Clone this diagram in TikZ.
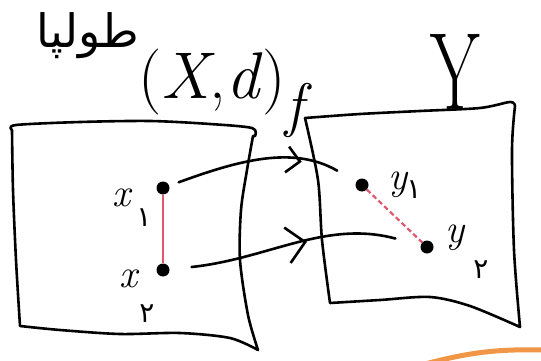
\documentclass[tikz,border=0pt]{standalone}
\usepackage{fontspec}
\usetikzlibrary{arrows.meta,decorations.markings}
\newfontfamily\arabicfont[Script=Arabic]{DejaVu Sans}
\TeXXeTstate=1
\definecolor{penred}{RGB}{226,86,108}
\definecolor{penorange}{RGB}{240,150,70}
\begin{document}
\begin{tikzpicture}[x=1pt,y=-1pt,
  pen/.style={line width=2.6pt,line cap=round,line join=round},
  pt/.style={circle,fill=black,inner sep=0pt,minimum size=13pt},
  lbl/.style={inner sep=0pt,font=\fontsize{40}{42}\selectfont\itshape},
  sub/.style={inner sep=0pt,font=\arabicfont\fontsize{28}{30}\selectfont},
  conn/.style 2 args={pen,postaction={decorate},decoration={markings,
     mark=at position #1 with {\arrow[line width=2.6pt]{Straight Barb[length=#2pt,width=2*#2pt]}}}}
]
\useasboundingbox (0,0) rectangle (541,361);
% title
\node[inner sep=0pt] (title) at (88,36) {\arabicfont\fontsize{46}{50}\selectfont\beginR طولپا\endR};
% labels
\node[inner sep=0pt] (Xd) at (212,82) {\fontsize{66}{68}\selectfont(\textit{X},\textit{d})};
\node[inner sep=0pt] (f) at (294,110) {\fontsize{60}{62}\selectfont\itshape f};
\node[inner sep=0pt] (Y) at (455,72) {\scalebox{0.65}[1]{\fontsize{110}{110}\selectfont Y}};
% left box X
\draw[pen] plot[smooth,tension=0.5] coordinates {(12,130) (16,125) (80,122) (150,121) (210,124) (252,128) (255,136)}
  -- plot[smooth,tension=0.5] coordinates {(253,136) (247,170) (241,210) (240,260) (248,315) (258,350)}
  -- plot[smooth,tension=0.5] coordinates {(258,350) (230,338) (180,333) (120,334) (60,330) (20,326)}
  -- plot[smooth,tension=0.5] coordinates {(20,326) (16,260) (13,190) (12,130)};
% right box Y
\draw[pen] plot[smooth,tension=0.5] coordinates {(305,118) (360,114) (420,111) (480,108) (510,102) (515,106)}
  -- plot[smooth,tension=0.5] coordinates {(515,106) (512,150) (514,250) (520,327)}
  -- plot[smooth,tension=0.5] coordinates {(520,327) (470,306) (430,297) (380,300) (330,303)}
  -- plot[smooth,tension=0.5] coordinates {(330,303) (322,240) (318,180) (305,118)};
% points
\node[pt] (x1) at (163,188) {};
\node[pt] (x2) at (163,270) {};
\node[pt] (y1) at (362,185) {};
\node[pt] (y2) at (427,247) {};
% point labels
\node[lbl] (lx1) at (121,198) {x};
\node[sub] (sx1) at (144,218) {\beginR ۱\endR};
\node[lbl] (lx2) at (128,279) {x};
\node[sub] (sx2) at (147,314) {\beginR ۲\endR};
\node[lbl] (ly1) at (398,185) {y};
\node[sub] (sy1) at (414,190) {\beginR ۱\endR};
\node[lbl] (ly2) at (455,238) {y};
\node[sub] (sy2) at (481,270) {\beginR ۲\endR};
% distances
\draw[line width=2.2pt,penred] (x1) -- (x2);
\draw[line width=2.2pt,penred,dashed,dash pattern=on 5pt off 3pt] (y1) -- (y2);
% mapping arrows
\draw[conn={0.7}{13},shorten <=10pt,shorten >=22pt] (x1) to[out=20,in=150] (y1);
\draw[conn={0.55}{18},shorten <=22pt,shorten >=26pt] (x2) to[out=6,in=165] (y2);
% orange stroke
\draw[line width=5pt,penorange] (425,364) to[bend left=8] (545,350);
\end{tikzpicture}
\end{document}
